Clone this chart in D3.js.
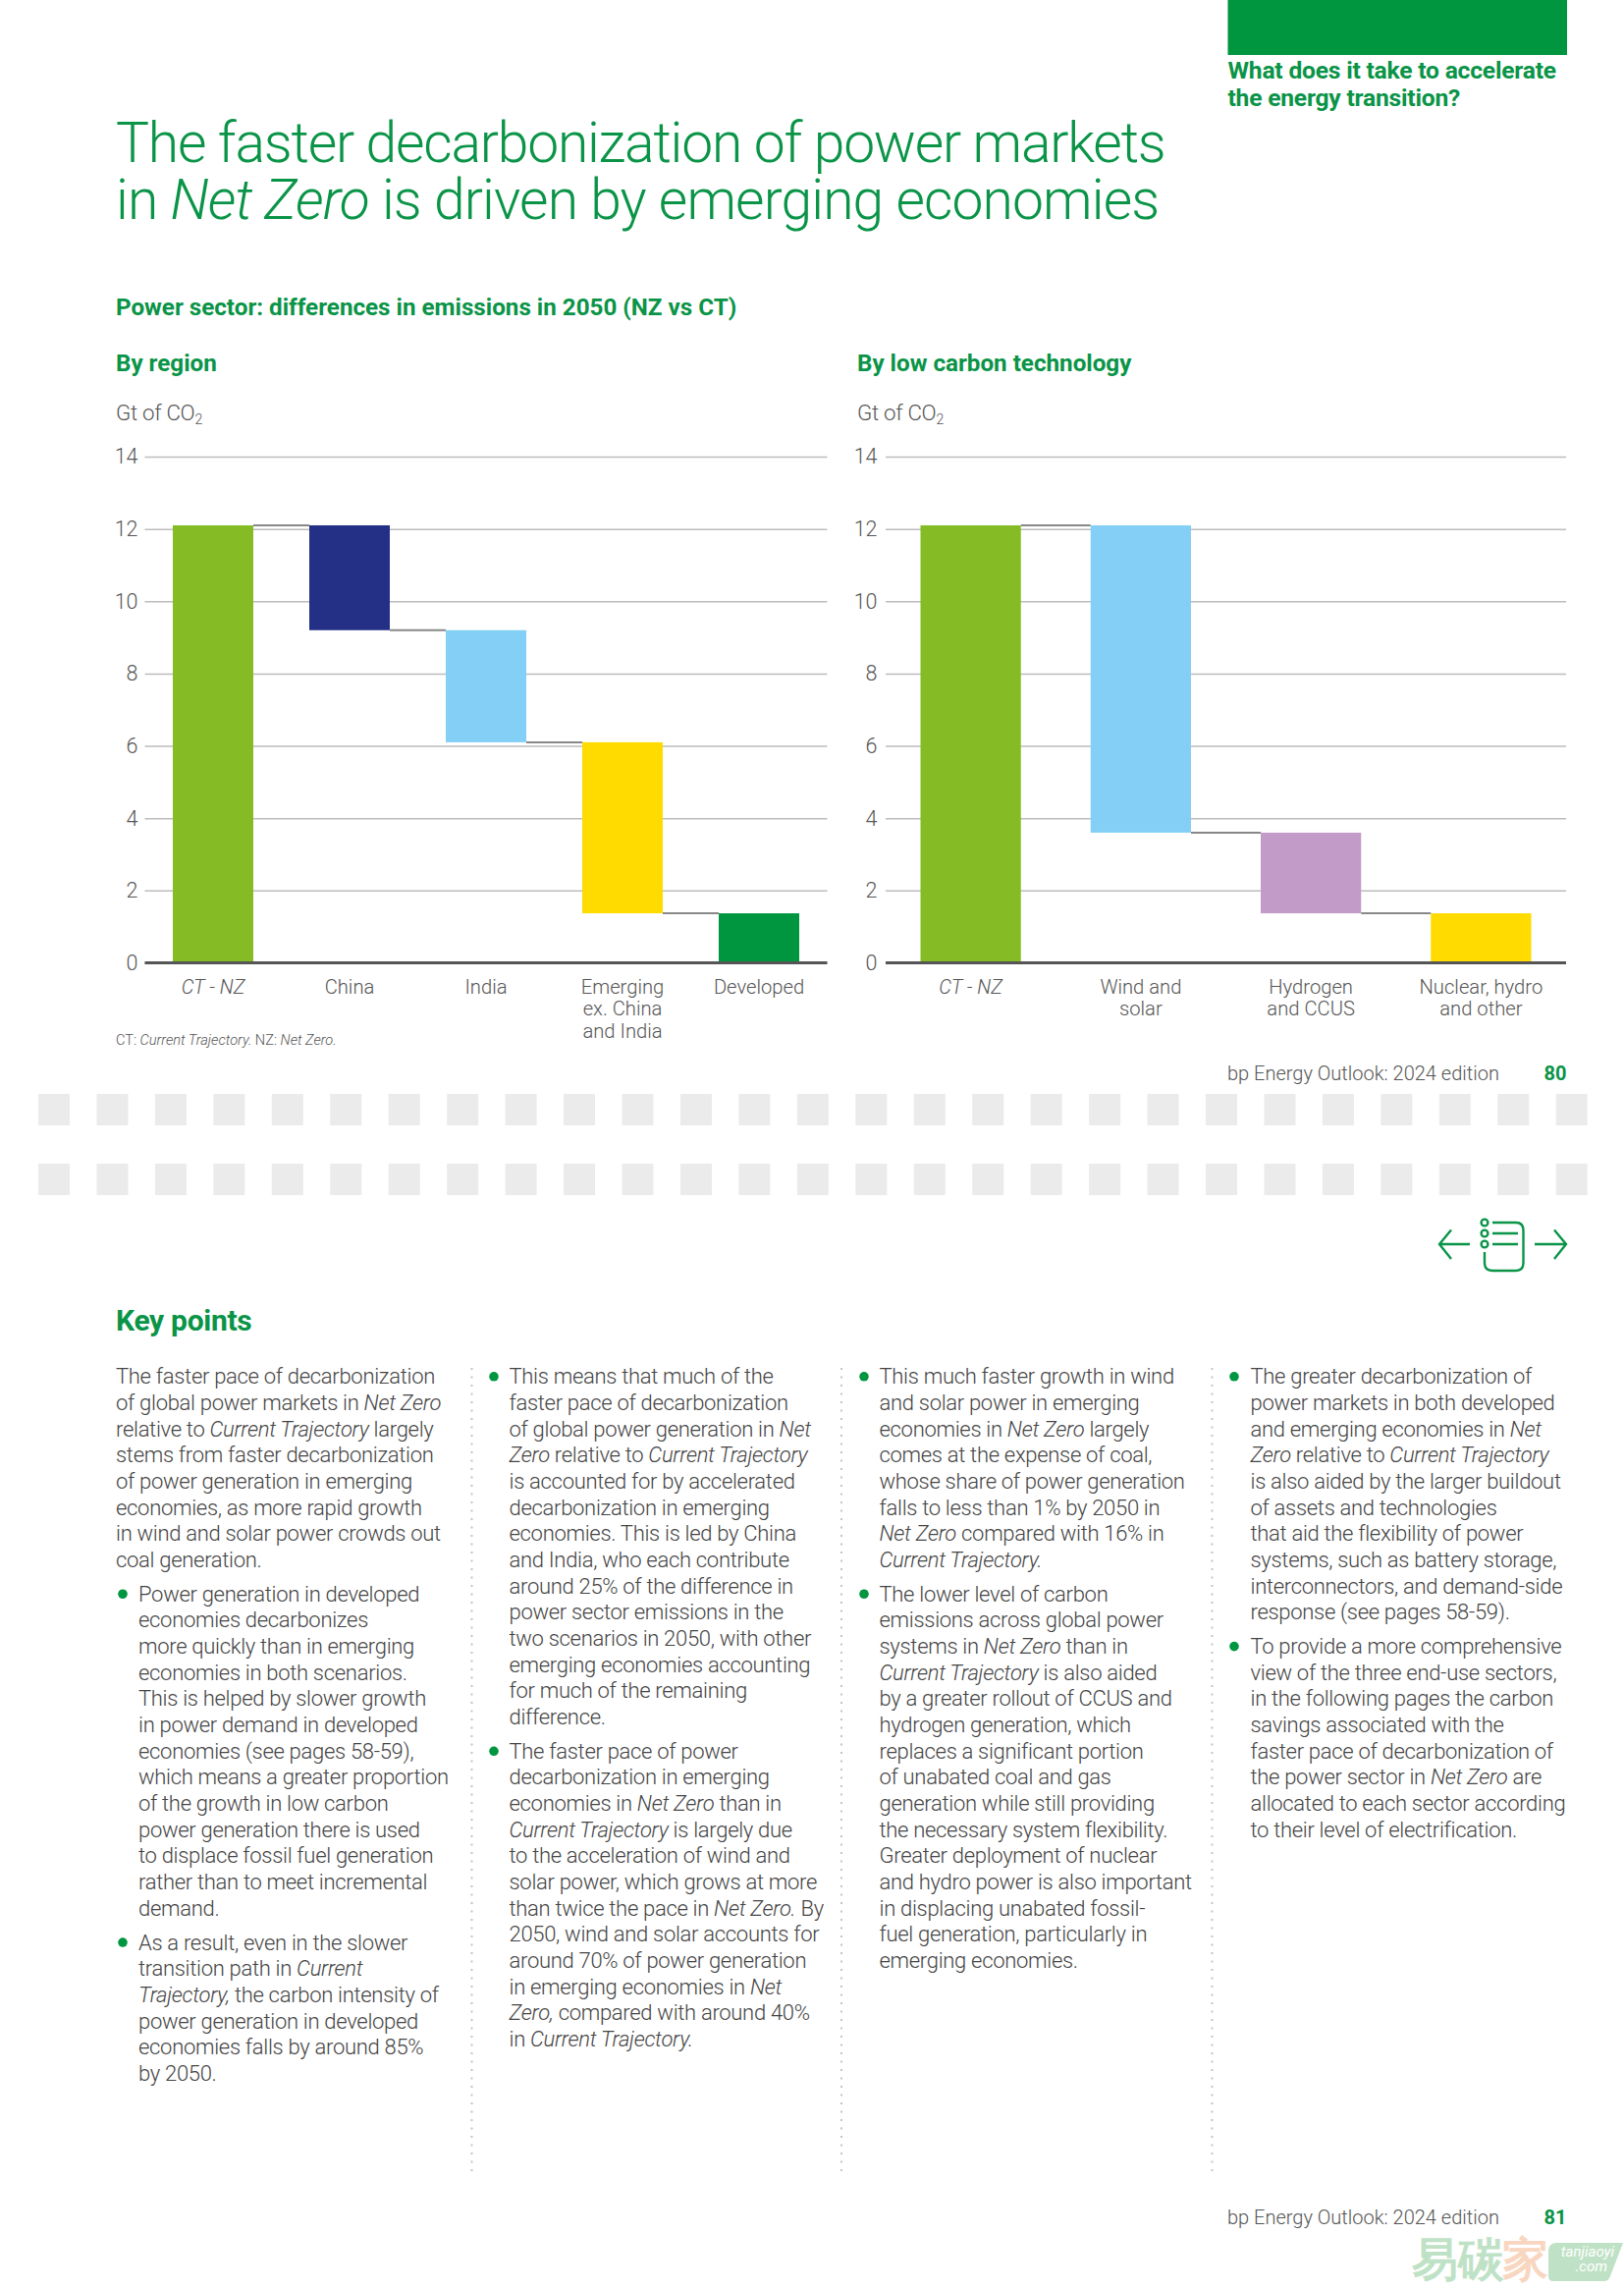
<!DOCTYPE html>
<html><head><meta charset="utf-8">
<script src="https://cdnjs.cloudflare.com/ajax/libs/d3/7.8.5/d3.min.js"></script>
<style>
html,body{margin:0;padding:0;background:#fff}
svg{display:block}
text{font-family:Roboto,sans-serif}
</style></head><body>
<svg id="page" width="1654" height="2331"></svg>
<script>
const yTicks = [0,2,4,6,8,10,12,14];
const regionCategories = [["*CT - NZ*"],["China"],["India"],["Emerging","ex. China","and India"],["Developed"]];
const regionValues = [12.1,2.9,3.1,4.73,1.37];
const regionColors = ["#85bc25","#233085","#84cff5","#ffdb00","#009640"];
const techCategories = [["*CT - NZ*"],["Wind and","solar"],["Hydrogen","and CCUS"],["Nuclear, hydro","and other"]];
const techValues = [12.1,8.5,2.23,1.37];
const techColors = ["#85bc25","#84cff5","#c39bc9","#ffdb00"];

const col1 = [
 ["The faster pace of decarbonization","of global power markets in *Net Zero*","relative to *Current Trajectory* largely","stems from faster decarbonization","of power generation in emerging","economies, as more rapid growth","in wind and solar power crowds out","coal generation."],
 ["•Power generation in developed","economies decarbonizes","more quickly than in emerging","economies in both scenarios.","This is helped by slower growth","in power demand in developed","economies (see pages 58-59),","which means a greater proportion","of the growth in low carbon","power generation there is used","to displace fossil fuel generation","rather than to meet incremental","demand."],
 ["•As a result, even in the slower","transition path in *Current*","*Trajectory,* the carbon intensity of","power generation in developed","economies falls by around 85%","by 2050."]
];
const col2 = [
 ["•This means that much of the","faster pace of decarbonization","of global power generation in *Net*","*Zero* relative to *Current Trajectory*","is accounted for by accelerated","decarbonization in emerging","economies. This is led by China","and India, who each contribute","around 25% of the difference in","power sector emissions in the","two scenarios in 2050, with other","emerging economies accounting","for much of the remaining","difference."],
 ["•The faster pace of power","decarbonization in emerging","economies in *Net Zero* than in","*Current Trajectory* is largely due","to the acceleration of wind and","solar power, which grows at more","than twice the pace in *Net Zero.* By","2050, wind and solar accounts for","around 70% of power generation","in emerging economies in *Net*","*Zero,* compared with around 40%","in *Current Trajectory.*"]
];
const col3 = [
 ["•This much faster growth in wind","and solar power in emerging","economies in *Net Zero* largely","comes at the expense of coal,","whose share of power generation","falls to less than 1% by 2050 in","*Net Zero* compared with 16% in","*Current Trajectory.*"],
 ["•The lower level of carbon","emissions across global power","systems in *Net Zero* than in","*Current Trajectory* is also aided","by a greater rollout of CCUS and","hydrogen generation, which","replaces a significant portion","of unabated coal and gas","generation while still providing","the necessary system flexibility.","Greater deployment of nuclear","and hydro power is also important","in displacing unabated fossil-","fuel generation, particularly in","emerging economies."]
];
const col4 = [
 ["•The greater decarbonization of","power markets in both developed","and emerging economies in *Net*","*Zero* relative to *Current Trajectory*","is also aided by the larger buildout","of assets and technologies","that aid the flexibility of power","systems, such as battery storage,","interconnectors, and demand-side","response (see pages 58-59)."],
 ["•To provide a more comprehensive","view of the three end-use sectors,","in the following pages the carbon","savings associated with the","faster pace of decarbonization of","the power sector in *Net Zero* are","allocated to each sector according","to their level of electrification."]
];

const GREEN="#0a9447", GREY="#555";
const svg = d3.select("#page");

function rich(sel, s){
  s.split("*").forEach((p,i)=>{ if(p) sel.append("tspan").attr("font-style",i%2?"italic":"normal").text(p); });
  return sel;
}
function label(x,y,s,size,weight,fill,ls,anchor){
  const t = svg.append("text").attr("x",x).attr("y",y).attr("font-size",size)
    .attr("font-weight",weight).attr("fill",fill).attr("letter-spacing",ls||0).attr("text-anchor",anchor||"start");
  return rich(t,s);
}

// page furniture
svg.append("rect").attr("x",1250.5).attr("y",0).attr("width",345.5).attr("height",56).attr("fill","#009640");
label(1250.5,80,"What does it take to accelerate",24.6,700,GREEN,-0.2);
label(1250.5,108,"the energy transition?",24.6,700,GREEN,-0.2);
label(118,164.5,"The faster decarbonization of power markets",57,300,GREEN,-1.22);
label(118,223,"in *Net Zero* is driven by emerging economies",57,300,GREEN,-0.88);
label(118,321,"Power sector: differences in emissions in 2050 (NZ vs CT)",24.2,700,GREEN,0);
label(118,378,"By region",24.2,700,GREEN,0);
label(873,378,"By low carbon technology",24.2,700,GREEN,0);

function unit(x){
  const t = svg.append("text").attr("x",x).attr("y",428).attr("font-size",22.3).attr("font-weight",300).attr("fill",GREY).attr("letter-spacing",-0.3);
  t.append("tspan").text("Gt of CO");
  t.append("tspan").attr("font-size",14).attr("dy",4).text("2");
}
unit(118); unit(873);

const y = d3.scaleLinear().domain([0,14]).range([980.5,465]);

function waterfall(x0,x1,labelX,cats,vals,cols){
  const x = d3.scaleBand().domain(d3.range(cats.length)).range([x0,x1]).paddingInner(0.41).paddingOuter(0.205);
  const grid = svg.append("g").attr("transform",`translate(${x0},0)`)
    .call(d3.axisLeft(y).tickValues(yTicks).tickSize(-(x1-x0)).tickPadding(x0-labelX).tickFormat(d3.format("d")));
  grid.select(".domain").remove();
  grid.selectAll("line").attr("stroke","#bcbcbc").attr("stroke-width",1.5);
  grid.selectAll("text").attr("font-size",21.5).attr("font-weight",300).attr("fill",GREY).attr("font-family","Roboto,sans-serif");

  // cascade: first bar is the total, each following bar steps down from the previous bottom
  let level = 0; const bars = [];
  vals.forEach((v,i)=>{
    if(i===0){ bars.push({i,top:v,bot:0}); level=v; }
    else { bars.push({i,top:level,bot:level-v}); level-=v; }
  });
  svg.append("g").selectAll("line").data(bars.slice(0,-1)).join("line")
    .attr("x1",d=>x(d.i)+x.bandwidth()).attr("x2",d=>x(d.i+1))
    .attr("y1",d=>y(d.i===0?d.top:d.bot)).attr("y2",d=>y(d.i===0?d.top:d.bot))
    .attr("stroke","#888").attr("stroke-width",2);
  svg.append("g").selectAll("rect").data(bars).join("rect")
    .attr("x",d=>x(d.i)).attr("width",x.bandwidth())
    .attr("y",d=>y(d.top)).attr("height",d=>y(d.bot)-y(d.top))
    .attr("fill",d=>cols[d.i]);

  const ax = svg.append("g").attr("transform",`translate(0,${y(0)})`)
    .call(d3.axisBottom(x).tickSize(0).tickPadding(0).tickFormat(""));
  ax.select(".domain").attr("stroke","#555").attr("stroke-width",3).attr("d",`M${x0},0H${x1}`);
  ax.selectAll(".tick text").remove();
  ax.selectAll(".tick").each(function(d){
    const g = d3.select(this);
    cats[d].forEach((ln,k)=>{
      const t = g.append("text").attr("x",0).attr("y",31.5+k*22.3).attr("text-anchor","middle")
        .attr("font-size",20.2).attr("font-weight",300).attr("fill",GREY);
      rich(t,ln);
    });
  });
}
waterfall(147.5,842.5,140.5,regionCategories,regionValues,regionColors);
waterfall(902,1595,893.5,techCategories,techValues,techColors);

label(118,1064,"CT: *Current Trajectory.* NZ: *Net Zero.*",14.6,300,GREY,0);

function footer(yy,n){
  label(1250,yy,"bp Energy Outlook: 2024 edition",20,300,GREY,0);
  label(1595.5,yy,n,20,700,GREEN,0,"end");
}
footer(1100,"80");

// dashed band
[1114,1185].forEach(yy=>{
  svg.append("g").selectAll("rect").data(d3.range(27)).join("rect")
    .attr("x",d=>39+d*59.45).attr("y",yy).attr("width",32).attr("height",32).attr("fill","#ebebeb");
});

// nav icon
const nav = svg.append("g").attr("fill","none").attr("stroke","#0a9447").attr("stroke-width",2.4);
nav.append("path").attr("d","M1497,1267H1466M1478,1252.5L1466,1267L1478,1282");
nav.append("path").attr("d","M1563,1267H1595M1583,1252.5L1595,1267L1583,1282");
nav.append("path").attr("d","M1520,1245H1544Q1551.5,1245 1551.5,1253V1286Q1551.5,1294 1544,1294H1520Q1512,1294 1512,1286V1275");
nav.append("path").attr("d","M1520,1256H1546M1520,1267H1546");
[1245,1256,1267].forEach(c=>nav.append("circle").attr("cx",1512).attr("cy",c).attr("r",3.4));

label(118,1355,"Key points",30,700,GREEN,-0.3);

// body columns; a leading • marks a bulleted paragraph
function column(paras,xText,xBullet,xIntro){
  let yy = 1409.3;
  paras.forEach(p=>{
    const bulleted = p[0].startsWith("•");
    p.forEach(ln=>{
      let s = ln;
      if(s.startsWith("•")){
        s = s.slice(1);
        svg.append("circle").attr("cx",xBullet).attr("cy",yy-7.5).attr("r",4.8).attr("fill","#009640");
      }
      label(bulleted?xText:xIntro,yy,s,22,300,"#444",-0.3);
      yy += 26.67;
    });
    yy += 8.1;
  });
}
column(col1,141,125,118);
column(col2,518.5,503);
column(col3,895.5,880);
column(col4,1273.5,1257);

// dotted separators
[480.5,857,1234.5].forEach(x=>{
  svg.append("line").attr("x1",x).attr("x2",x).attr("y1",1393).attr("y2",2214)
    .attr("stroke","#c4c4c4").attr("stroke-width",2).attr("stroke-dasharray","2 6.5");
});

footer(2265,"81");

// watermark
const wm = svg.append("g");
wm.append("text").attr("x",1438).attr("y",2317).attr("font-size",47).attr("font-weight",900).attr("font-family","'Noto Sans CJK SC'").attr("fill","#bfe2c6").text("易碳");
wm.append("text").attr("x",1530).attr("y",2317).attr("font-size",47).attr("font-weight",900).attr("font-family","'Noto Sans CJK SC'").attr("fill","#f8d6c0").text("家");
wm.append("path").attr("d","M1586,2284H1653L1640,2318Q1638,2323 1634,2323H1582Q1577,2323 1577,2318V2293Q1577,2284 1586,2284Z").attr("fill","#bfe2c6");
wm.append("text").attr("x",1644).attr("y",2298).attr("text-anchor","end").attr("font-size",15).attr("font-style","italic").attr("fill","#fff").text("tanjiaoyi");
wm.append("text").attr("x",1637).attr("y",2313).attr("text-anchor","end").attr("font-size",15).attr("font-style","italic").attr("fill","#fff").text(".com");
</script>
</body></html>
